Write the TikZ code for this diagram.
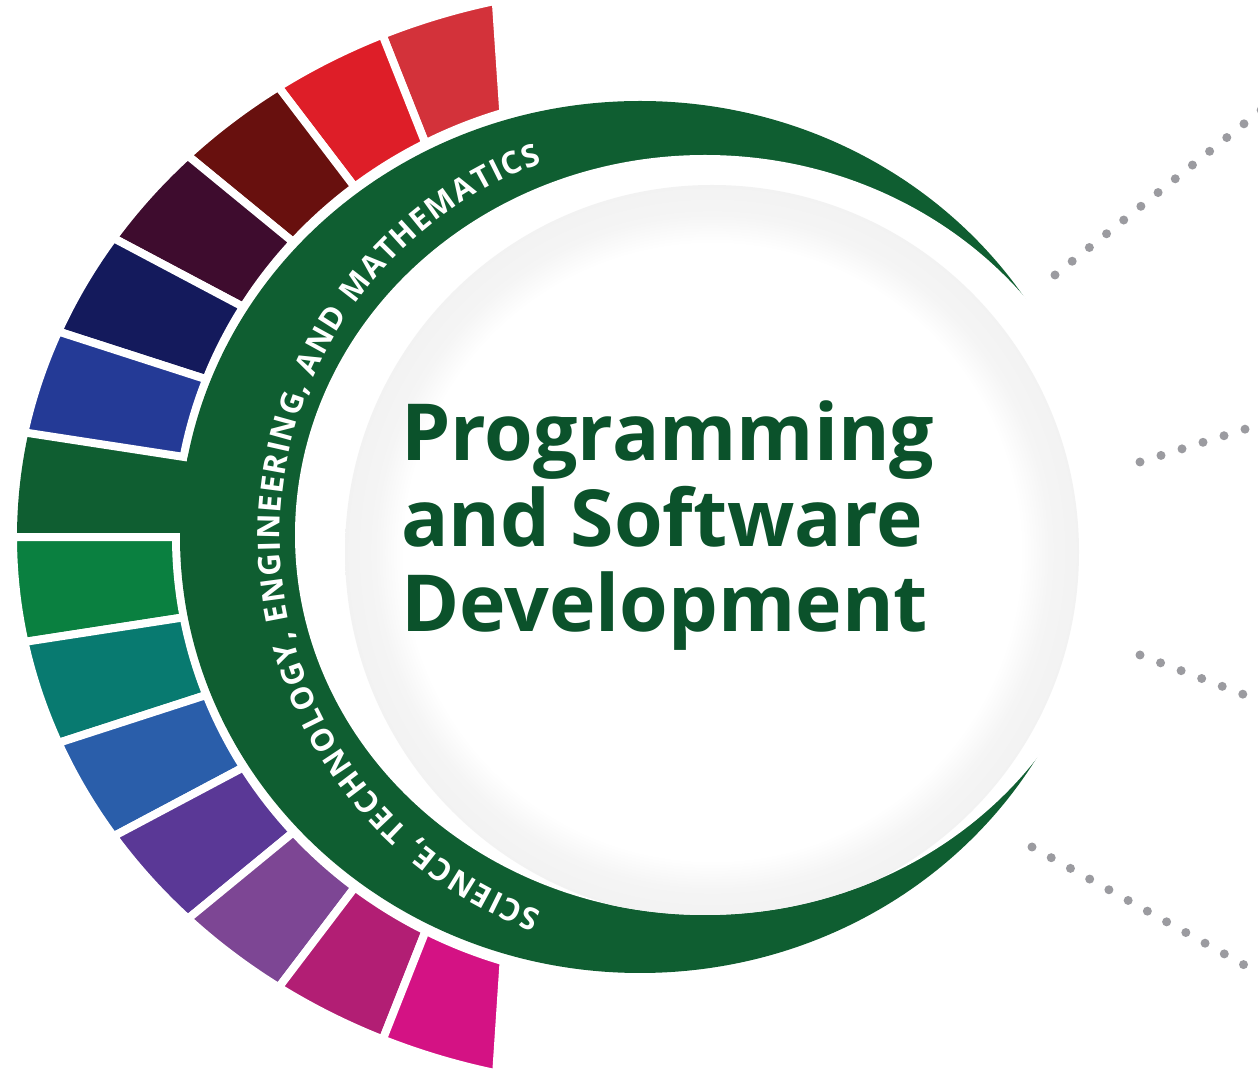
\documentclass[tikz,border=0pt]{standalone}
\usepackage{fontspec}
\usepackage{tikz}
\usetikzlibrary{calc, decorations.text}
\newfontfamily\headfont{Open Sans}
\definecolor{ringGreen}{RGB}{15, 94, 49}
\definecolor{titleGreen}{RGB}{11, 82, 43}
\definecolor{dotGray}{RGB}{155, 155, 160}
\definecolor{tileA}{RGB}{211, 50, 58}
\definecolor{tileB}{RGB}{222, 30, 40}
\definecolor{tileC}{RGB}{104, 16, 14}
\definecolor{tileD}{RGB}{62, 12, 46}
\definecolor{tileE}{RGB}{20, 26, 92}
\definecolor{tileF}{RGB}{36, 58, 150}
\definecolor{tileG}{RGB}{10, 128, 64}
\definecolor{tileH}{RGB}{8, 122, 112}
\definecolor{tileI}{RGB}{42, 94, 170}
\definecolor{tileJ}{RGB}{90, 56, 150}
\definecolor{tileK}{RGB}{125, 70, 148}
\definecolor{tileL}{RGB}{178, 30, 116}
\definecolor{tileM}{RGB}{212, 18, 132}
\pgfdeclareradialshading{discrim}{\pgfpoint{0bp}{0bp}}{color(0bp)=(white); color(21bp)=(white); color(23bp)=(black!4); color(25bp)=(black!5); color(50bp)=(black!5)}
% one coloured tile of the outer band, between two angles
\newcommand{\segtile}[3]{%
  \fill[#3, draw=white, line width=8bp]
    ($(hub)+(#1:627 and 551)$) arc[start angle=#1, end angle=#2, x radius=627, y radius=551]
    -- ($(hub)+({0.95*#2+9}:464 and 444)$) arc[start angle={0.95*#2+9}, end angle={0.95*#1+9}, x radius=464, y radius=444]
    -- cycle;}

\begin{document}
\begin{tikzpicture}[x=1bp, y=1bp,
  dotline/.style={draw=dotGray, line width=9bp, line cap=round, dash pattern=on 0bp off 22bp},
  titletext/.style={text=titleGreen, align=left, inner sep=0pt, font=\headfont\bfseries\fontsize{79}{86}\selectfont}]
  \useasboundingbox (0,0) rectangle (1258,1077);
  \clip (0,0) rectangle (1258,1077);

  \coordinate (hub) at (640,540);
  \coordinate (eye) at (705,542);
  \coordinate (disc) at (712,525);
  \coordinate (arcc) at (678,540);

  % Green stem between the tiles
  \fill[ringGreen] ($(hub)+(169.06:623 and 547)$) arc[start angle=169.06, end angle=180.02, x radius=623, y radius=547]
    -- ($(hub)+(180.02:440 and 420)$) -- ($(hub)+(169.06:440 and 420)$) -- cycle;

  % Upper tiles
  \segtile{103.30}{114.26}{tileA}
  \segtile{114.26}{125.22}{tileB}
  \segtile{125.22}{136.18}{tileC}
  \segtile{136.18}{147.14}{tileD}
  \segtile{147.14}{158.10}{tileE}
  \segtile{158.10}{169.06}{tileF}
  % Lower tiles
  \segtile{180.02}{190.98}{tileG}
  \segtile{190.98}{201.94}{tileH}
  \segtile{201.94}{212.90}{tileI}
  \segtile{212.90}{223.86}{tileJ}
  \segtile{223.86}{234.82}{tileK}
  \segtile{234.82}{245.78}{tileL}
  \segtile{245.78}{256.74}{tileM}

  % Green ring and the white face
  \fill[ringGreen] (hub) ellipse[x radius=460, y radius=436];
  \fill[white] (eye) ellipse[x radius=410, y radius=380];
  \begin{scope}
    \clip (eye) ellipse[x radius=410, y radius=380];
    \shade[shading=discrim] (disc) circle[radius=367];
  \end{scope}

  % Title
  \node[titletext, anchor=base west] (title) at (401,445) {Programming\\and Software\\Development};

  % Lettering on the ring
  \path[decorate, decoration={text along path, text align=fit to path,
      text={|\headfont\bfseries\fontsize{31}{31}\selectfont\color{white}|SCIENCE, TECHNOLOGY, ENGINEERING, AND MATHEMATICS}}]
    ($(arcc)+(250:398)$) arc[start angle=250, end angle=110, radius=398];

  % Dotted leaders
  \coordinate (d1a) at (1055,802);  \coordinate (d1b) at (1300,998);
  \coordinate (d2a) at (1140,615);  \coordinate (d2b) at (1300,665);
  \coordinate (d3a) at (1140,422);  \coordinate (d3b) at (1300,361);
  \coordinate (d4a) at (1032,230);  \coordinate (d4b) at (1300,81);
  \draw[dotline] (d1a) -- (d1b);
  \draw[dotline] (d2a) -- (d2b);
  \draw[dotline] (d3a) -- (d3b);
  \draw[dotline] (d4a) -- (d4b);
\end{tikzpicture}
\end{document}
